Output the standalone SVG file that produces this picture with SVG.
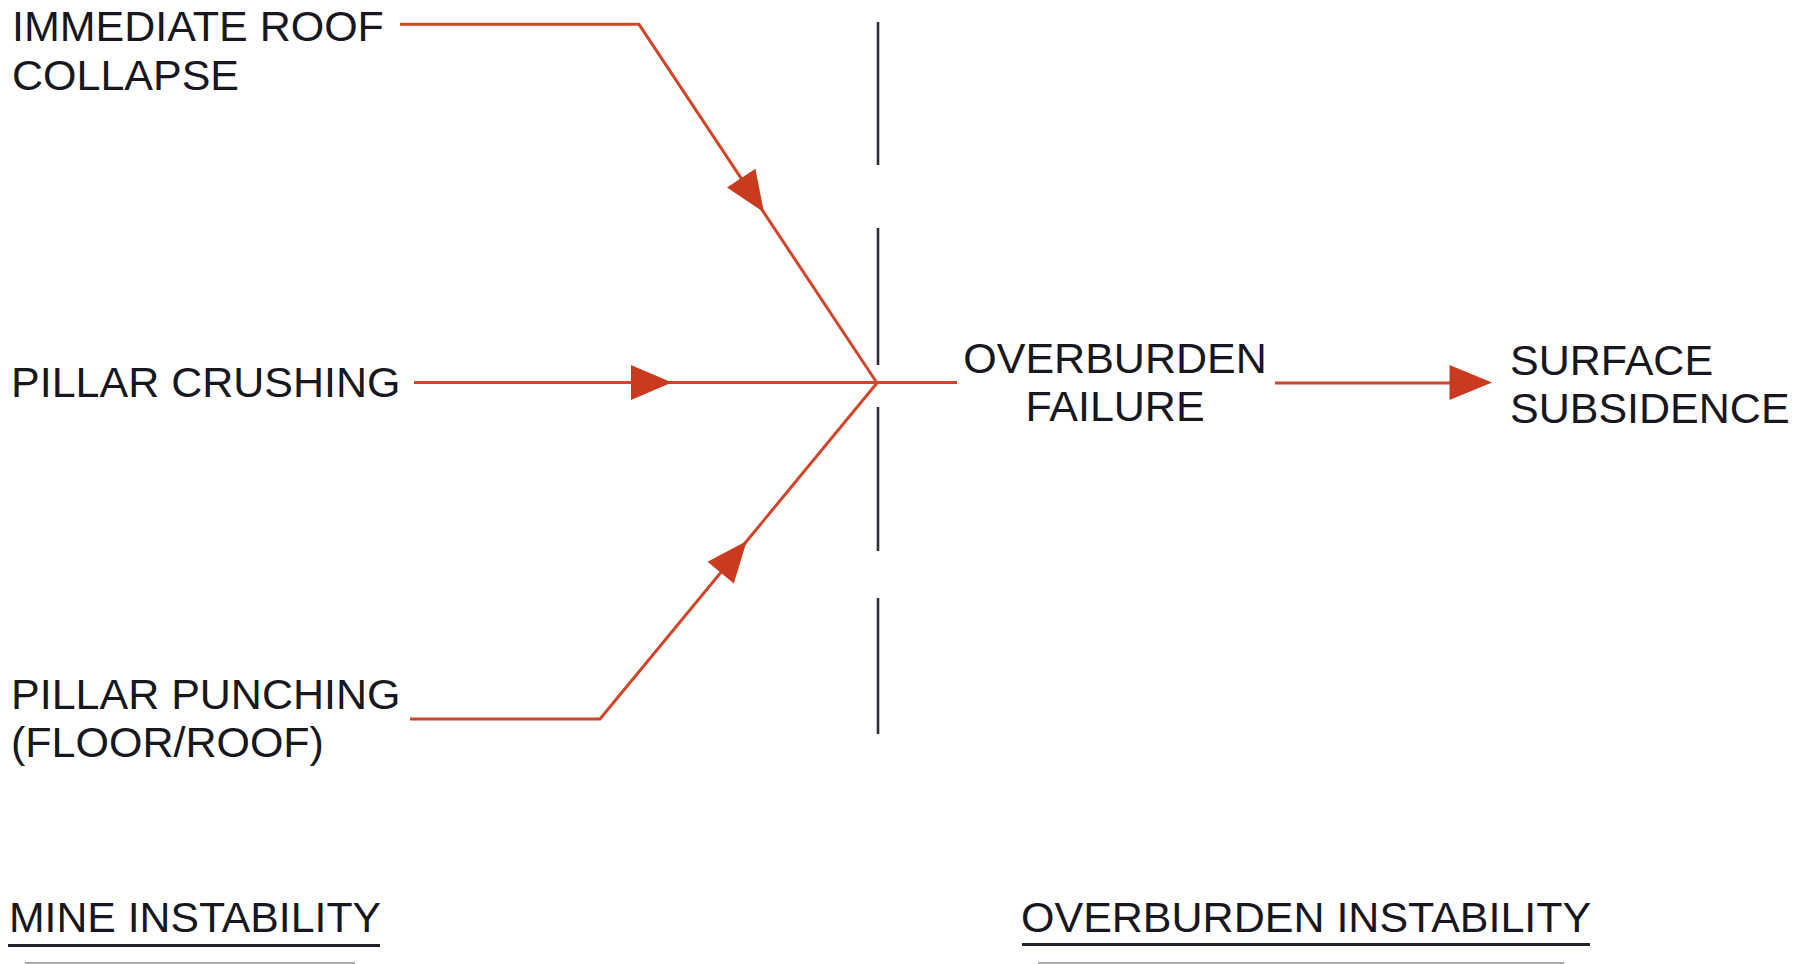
<svg xmlns="http://www.w3.org/2000/svg" width="1811" height="964" viewBox="0 0 1811 964">
<style>
text{font-family:"Liberation Sans",Arial,sans-serif;font-size:43px;fill:#17171f}
.ln{fill:none;stroke:#d2452a;stroke-width:3;stroke-linejoin:miter}
.ah{fill:#c93a1e;stroke:none}
.dash{stroke:#2e2e36;stroke-width:2.6}
.ul{stroke:#22222a;stroke-width:2.8}
.ul2{stroke:#a8a8b0;stroke-width:2}
</style>
<rect width="1811" height="964" fill="#ffffff"/>
<g id="divider">
<line class="dash" x1="878" y1="22" x2="878" y2="165"/>
<line class="dash" x1="878" y1="228" x2="878" y2="365"/>
<line class="dash" x1="878" y1="407" x2="878" y2="551"/>
<line class="dash" x1="878" y1="598" x2="878" y2="734"/>
</g>
<g id="connectors">
<path class="ln" d="M400,24.3 L639,24.3 L877,383"/>
<polygon class="ah" points="763.9,212.3 755.4,168.8 727.0,187.6"/>
<path class="ln" d="M414,382.5 L957,382.5"/>
<polygon class="ah" points="672,382.5 631,365 631,400"/>
<path class="ln" d="M410,719 L600,719 L877,383"/>
<polygon class="ah" points="746.7,541 733.8,583.4 707.6,561.8"/>
<path class="ln" d="M1275,383 L1452,383"/>
<polygon class="ah" points="1492,382.5 1449.5,365 1449.5,400"/>
</g>
<g id="immediate-roof-collapse">
<text x="12" y="41">IMMEDIATE ROOF</text>
<text x="12" y="90">COLLAPSE</text>
</g>
<g id="pillar-crushing">
<text x="11" y="397">PILLAR CRUSHING</text>
</g>
<g id="pillar-punching">
<text x="11" y="709">PILLAR PUNCHING</text>
<text x="11" y="757">(FLOOR/ROOF)</text>
</g>
<g id="overburden-failure">
<text x="1115" y="372.5" text-anchor="middle">OVERBURDEN</text>
<text x="1115" y="420.5" text-anchor="middle">FAILURE</text>
</g>
<g id="surface-subsidence">
<text x="1510" y="375">SURFACE</text>
<text x="1510" y="423">SUBSIDENCE</text>
</g>
<g id="mine-instability">
<text x="9" y="932" textLength="372" lengthAdjust="spacingAndGlyphs">MINE INSTABILITY</text>
<line class="ul" x1="8" y1="945.5" x2="380" y2="945.5"/>
<line class="ul2" x1="25" y1="963" x2="355" y2="963"/>
</g>
<g id="overburden-instability">
<text x="1021" y="932">OVERBURDEN INSTABILITY</text>
<line class="ul" x1="1022" y1="944.5" x2="1590" y2="944.5"/>
<line class="ul2" x1="1038" y1="963" x2="1564" y2="963"/>
</g>
</svg>
